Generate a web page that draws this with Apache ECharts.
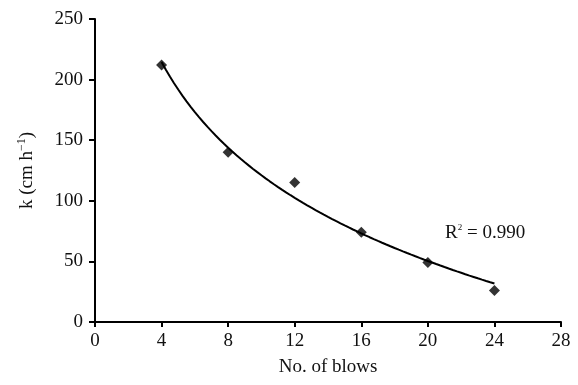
<!DOCTYPE html>
<html>
<head>
<meta charset="utf-8">
<script src="https://cdn.jsdelivr.net/npm/echarts@6/dist/echarts.min.js"></script>
<style>
  html, body { margin: 0; padding: 0; background: #fff; }
  #chart { width: 578px; height: 385px; }
</style>
</head>
<body>
<div id="chart"></div>
<script>
// Measured hydraulic conductivity against compaction effort
const blows = [4, 8, 12, 16, 20, 24];
const conductivity = [212, 140, 115, 74, 49, 26];
const xTicks = [0, 4, 8, 12, 16, 20, 24, 28];
const yTicks = [0, 50, 100, 150, 200, 250];
const r2Text = '0.990';

// Logarithmic least-squares trend line  k = a + b ln(n)
function logFit(xs, ys) {
  const lx = xs.map(Math.log);
  const n = xs.length;
  const mx = lx.reduce((s, v) => s + v, 0) / n;
  const my = ys.reduce((s, v) => s + v, 0) / n;
  let sxy = 0, sxx = 0;
  for (let i = 0; i < n; i++) {
    sxy += (lx[i] - mx) * (ys[i] - my);
    sxx += (lx[i] - mx) * (lx[i] - mx);
  }
  const b = sxy / sxx;
  return { a: my - b * mx, b: b };
}
const fit = logFit(blows, conductivity);
const trend = [];
const x0 = blows[0], x1 = blows[blows.length - 1];
for (let i = 0; i <= 80; i++) {
  const x = x0 + (x1 - x0) * i / 80;
  trend.push([x, fit.a + fit.b * Math.log(x)]);
}

const font = '"Liberation Serif", "Times New Roman", serif';
const chart = echarts.init(document.getElementById('chart'));
chart.setOption({
  animation: false,
  backgroundColor: '#fff',
  grid: { left: 95, right: 17, top: 19, bottom: 63 },
  xAxis: {
    type: 'value',
    min: xTicks[0], max: xTicks[xTicks.length - 1], interval: 4,
    axisLine: { onZero: false, lineStyle: { color: '#000', width: 2 } },
    axisTick: { show: true, length: 5, lineStyle: { color: '#000', width: 2 } },
    axisLabel: { color: '#111', fontFamily: font, fontSize: 19, margin: 10 },
    splitLine: { show: false },
    name: 'No. of blows', nameLocation: 'middle', nameGap: 36,
    nameTextStyle: { color: '#111', fontFamily: font, fontSize: 19 }
  },
  yAxis: {
    type: 'value',
    min: yTicks[0], max: yTicks[yTicks.length - 1], interval: 50,
    axisLine: { show: true, onZero: false, lineStyle: { color: '#000', width: 2 } },
    axisTick: { show: true, length: 6, lineStyle: { color: '#000', width: 2 } },
    axisLabel: { color: '#111', fontFamily: font, fontSize: 19, margin: 12 },
    splitLine: { show: false },
    name: '{t|k (cm h}{s|−1}{t|)}', nameLocation: 'middle', nameGap: 56,
    nameTextStyle: {
      color: '#111', fontFamily: font, fontSize: 19,
      rich: {
        t: { fontFamily: font, fontSize: 19, color: '#111' },
        s: { fontFamily: font, fontSize: 12, color: '#111', padding: [0, 0, 11, 0] }
      }
    }
  },
  series: [
    {
      type: 'line',
      data: trend,
      showSymbol: false,
      smooth: false,
      lineStyle: { color: '#000', width: 2 },
      z: 2
    },
    {
      type: 'scatter',
      data: blows.map((x, i) => [x, conductivity[i]]),
      symbol: 'diamond',
      symbolSize: [11, 11],
      itemStyle: { color: '#000' },
      z: 3
    }
  ],
  graphic: [
    {
      type: 'text',
      left: 445, top: 223,
      style: {
        text: '{t|R}{s|2}{t| = ' + r2Text + '}',
        rich: {
          t: { fontFamily: font, fontSize: 19, fill: '#111' },
          s: { fontFamily: font, fontSize: 9, fill: '#111', padding: [0, 0, 11, 0] }
        }
      }
    }
  ]
});
</script>
</body>
</html>
